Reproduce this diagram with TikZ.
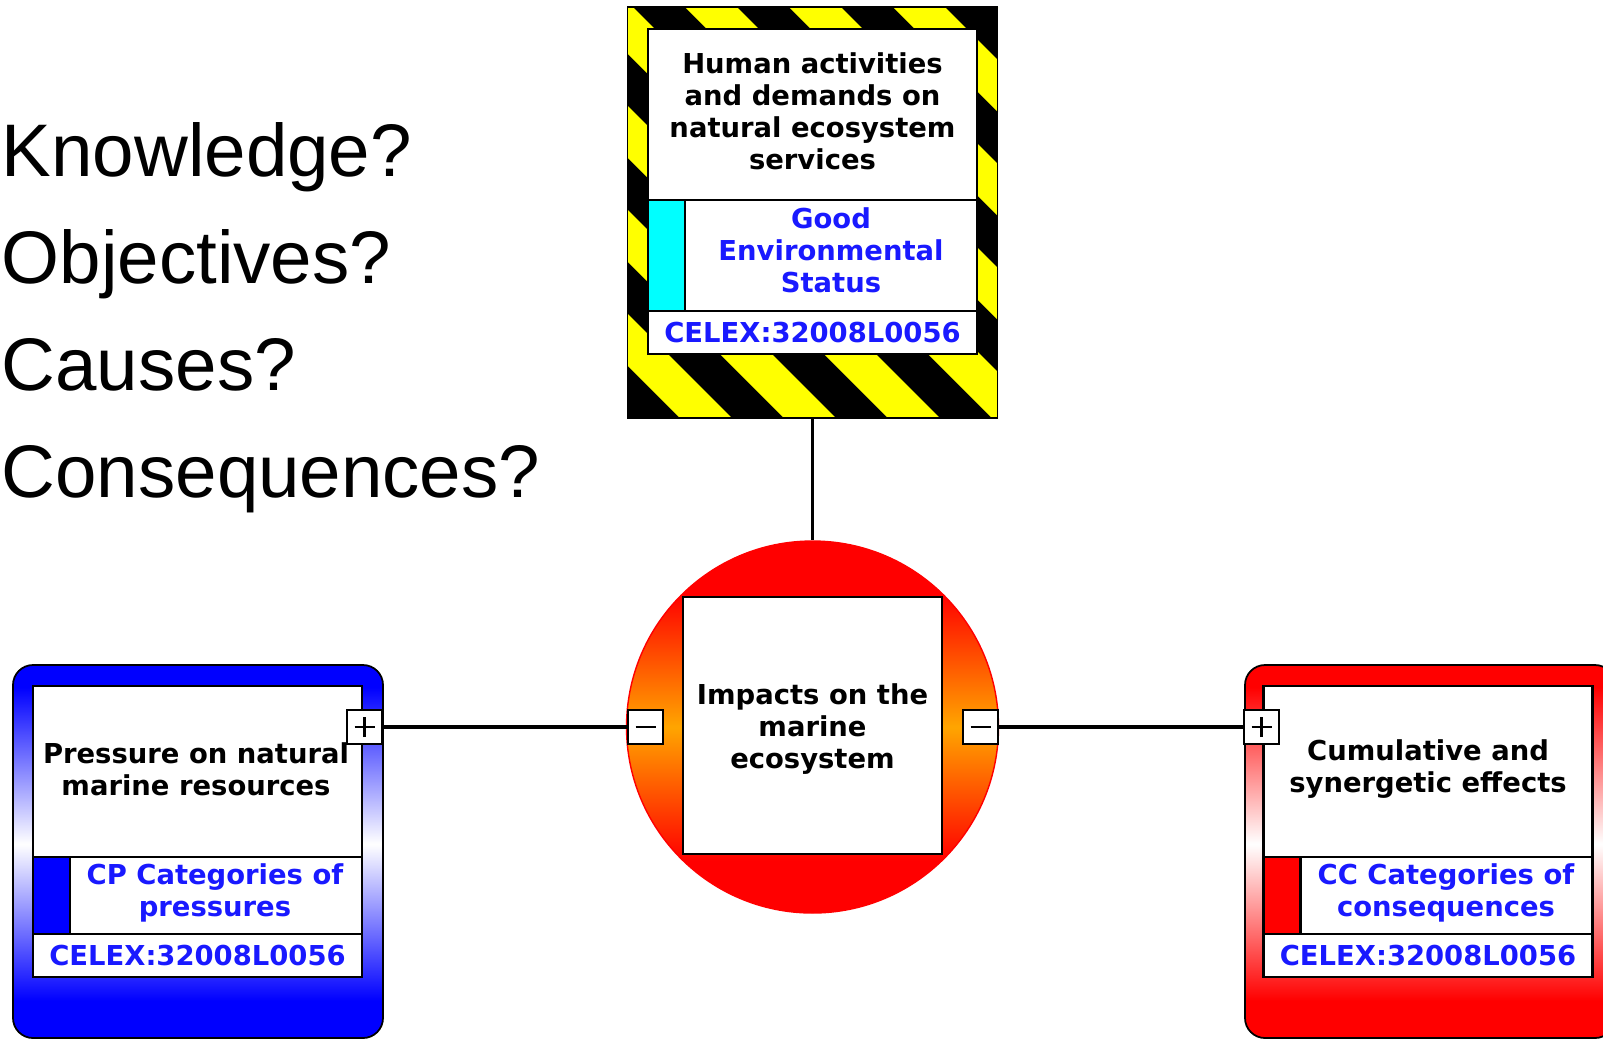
\documentclass[tikz,border=0pt]{standalone}
\usepackage{fontspec}
\setmainfont{DejaVu Sans}
\newfontfamily\questionfont{Liberation Sans}
\usetikzlibrary{positioning}

\definecolor{hazyellow}{RGB}{255,255,0}
\definecolor{gescyan}{RGB}{0,255,255}
\definecolor{tagblue}{RGB}{25,25,255}
\definecolor{impactorange}{RGB}{255,165,0}

\pgfdeclareverticalshading{pressurefade}{100bp}{color(0bp)=(blue); color(30bp)=(blue); color(51bp)=(white); color(72bp)=(blue); color(100bp)=(blue)}
\pgfdeclareverticalshading{effectfade}{100bp}{color(0bp)=(red); color(30bp)=(red); color(51bp)=(white); color(72bp)=(red); color(100bp)=(red)}
\pgfdeclareverticalshading{impactfade}{100bp}{color(0bp)=(red); color(32bp)=(red); color(50bp)=(impactorange); color(68bp)=(red); color(100bp)=(red)}

\begin{document}
\begin{tikzpicture}[x=0.1mm, y=-0.1mm,
  panel/.style={rectangle, draw, line width=0.6pt, fill=white, inner sep=0pt, outer sep=0pt, minimum width=3.29cm, align=center},
  heading/.style={font=\bfseries\fontsize{7.8}{9.1}\selectfont, align=center, inner sep=0pt},
  tag/.style={font=\bfseries\fontsize{7.8}{9.1}\selectfont, text=tagblue, align=center, inner sep=0pt},
  strip/.style={rectangle, draw, line width=0.6pt, inner sep=0pt, outer sep=0pt, minimum width=0.37cm},
  toggle/.style={rectangle, draw, line width=0.6pt, fill=white, inner sep=0pt, minimum width=0.35cm, minimum height=0.34cm},
  sign/.style={line width=0.6pt},
  link/.style={line width=0.95pt},
  question/.style={font=\questionfont\fontsize{21.2}{25}\selectfont, anchor=base west, inner sep=0pt}]

\useasboundingbox (0,0) rectangle (1603,1040);
\clip (0,0) rectangle (1603,1040);

% questions on the left
\foreach \q [count=\i] in {Knowledge?,Objectives?,Causes?,Consequences?}
  \node[question] (q\i) at (1,69+107*\i) {\q};

% hazard frame
\begin{scope}
  \clip (628,7) rectangle (998,418);
  \fill (628,7) rectangle (998,418);
  \foreach \c in {158,262,...,990}
    \fill[hazyellow] (\c,0) -- ++(52,0) -- ++(450,450) -- ++(-52,0) -- cycle;
\end{scope}
\node[rectangle, draw, line width=0.5pt, minimum width=3.7cm, minimum height=4.11cm] (human) at (812.5,212.5) {};
\node[panel, minimum height=1.71cm, anchor=north] (humantitle) at (812.5,29) {};
\node[heading] (humantext) at (812.5,111) {Human activities\\and demands on\\natural ecosystem\\services};
\node[panel, minimum height=1.11cm, below=0pt of humantitle] (humanges) {};
\node[strip, fill=gescyan, minimum height=1.11cm, anchor=north west] (humanstrip) at (humanges.north west) {};
\node[tag] (gestext) at (831,250) {Good\\Environmental\\Status};
\node[panel, tag, minimum height=0.43cm, below=0pt of humanges] (humancelex) {CELEX:32008L0056};

% impact circle
\node[circle, shade, shading=impactfade, draw=red, line width=0.4pt, minimum size=3.72cm, inner sep=0pt] (impact) at (812.5,727) {};
\node[panel, minimum width=2.59cm, minimum height=2.57cm] (impactbox) at (812.5,725.5) {};
\node[heading] (impacttext) at (812.5,729.5) {Impacts on the\\marine\\ecosystem};

% pressures
\node[rectangle, rounded corners=2mm, draw, line width=0.5pt, shade, shading=pressurefade, minimum width=3.7cm, minimum height=3.73cm] (pressure) at (198,851.5) {};
\node[panel, minimum height=1.71cm, anchor=north] (pressuretitle) at (197.5,686) {};
\node[heading] (pressuretext) at (196,769) {Pressure on natural\\marine resources};
\node[panel, minimum height=0.77cm, below=0pt of pressuretitle] (pressurecat) {};
\node[strip, fill=blue, minimum height=0.77cm, anchor=north west] (pressurestrip) at (pressurecat.north west) {};
\node[tag] (cptext) at (215,892.5) {CP Categories of\\pressures};
\node[panel, tag, minimum height=0.43cm, below=0pt of pressurecat] (pressurecelex) {CELEX:32008L0056};

% effects
\node[rectangle, rounded corners=2mm, draw, line width=0.5pt, shade, shading=effectfade, minimum width=3.7cm, minimum height=3.73cm] (effect) at (1430,851.5) {};
\node[panel, minimum height=1.71cm, anchor=north] (effecttitle) at (1428,686) {};
\node[heading] (effecttext) at (1428,769) {Cumulative and\\synergetic effects};
\node[panel, minimum height=0.77cm, below=0pt of effecttitle] (effectcat) {};
\node[strip, fill=red, minimum height=0.77cm, anchor=north west] (effectstrip) at (effectcat.north west) {};
\node[tag] (cctext) at (1446,892.5) {CC Categories of\\consequences};
\node[panel, tag, minimum height=0.43cm, below=0pt of effectcat] (effectcelex) {CELEX:32008L0056};

% expand/collapse boxes
\node[toggle] (plusl) at (364.5,727) {};
\node[toggle] (minusl) at (645.5,727) {};
\node[toggle] (minusr) at (980.5,727) {};
\node[toggle] (plusr) at (1261.5,727) {};
\foreach \n in {plusl,minusl,minusr,plusr}
  \draw[sign] ([xshift=-1mm]\n.center) -- ([xshift=1mm]\n.center);
\foreach \n in {plusl,plusr}
  \draw[sign] ([yshift=-1mm]\n.center) -- ([yshift=1mm]\n.center);

% links
\draw[link] (human) -- (impact);
\draw[link] (plusl) -- (minusl);
\draw[link] (minusr) -- (plusr);
\end{tikzpicture}
\end{document}
